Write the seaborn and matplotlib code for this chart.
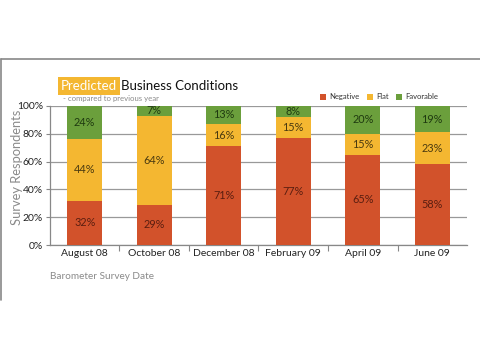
import matplotlib
matplotlib.use("Agg")
import matplotlib.pyplot as plt
import seaborn as sns
import pandas as pd
import numpy as np
from matplotlib.patches import Patch
from matplotlib.lines import Line2D

dates = ["August 08", "October 08", "December 08", "February 09", "April 09", "June 09"]
negative = [32, 29, 71, 77, 65, 58]
flat = [44, 64, 16, 15, 15, 23]
favorable = [24, 7, 13, 8, 20, 19]
yticks = [0, 20, 40, 60, 80, 100]

c_neg = "#d2522b"
c_flat = "#f4b731"
c_fav = "#6b9f3c"

sns.set_theme(style="white")
plt.rcParams["font.family"] = ["Lato", "DejaVu Sans"]

neg = np.array(negative)
fl = np.array(flat)
fav = np.array(favorable)
df = pd.DataFrame({
    "date": dates,
    "neg_top": neg,
    "flat_top": neg + fl,
    "fav_top": neg + fl + fav,
})

fig = plt.figure(figsize=(4.8, 3.6), dpi=100)
fig.patch.set_facecolor("white")
ax = fig.add_axes([0.104, 0.319, 0.869, 0.387])

for col, color in [("fav_top", c_fav), ("flat_top", c_flat), ("neg_top", c_neg)]:
    sns.barplot(data=df, x="date", y=col, color=color, width=0.5,
                saturation=1, ax=ax, zorder=3, linewidth=0)

for i in range(len(dates)):
    ax.text(i, neg[i] / 2, f"{neg[i]}%", ha="center", va="center",
            fontsize=7.8, color="#5a1e10", zorder=5)
    ax.text(i, neg[i] + fl[i] / 2, f"{fl[i]}%", ha="center", va="center",
            fontsize=7.8, color="#4a3a10", zorder=5)
    ax.text(i, neg[i] + fl[i] + fav[i] / 2, f"{fav[i]}%", ha="center", va="center",
            fontsize=7.8, color="#1f3a10", zorder=5)

ax.set_xlim(-0.5, len(dates) - 0.5)
ax.set_ylim(0, 100)
ax.set_yticks(yticks)
ax.set_yticklabels([f"{v}%" for v in yticks], fontsize=7.5, color="#222222")
ax.yaxis.grid(True, color="#999999", linewidth=0.9, zorder=0)
ax.set_axisbelow(True)
ax.tick_params(axis="y", which="major", length=3, width=0.8, color="#888888",
               direction="out", left=True, pad=2)
ax.tick_params(axis="x", which="major", length=0, labelsize=7.5, labelcolor="#222222", pad=3)
ax.set_xticks(np.arange(0.5, len(dates) - 0.5, 1.0), minor=True)
ax.tick_params(axis="x", which="minor", length=4, width=0.8, color="#888888",
               direction="out", bottom=True)
for s in ["top", "right"]:
    ax.spines[s].set_visible(False)
for s in ["left", "bottom"]:
    ax.spines[s].set_color("#888888")
    ax.spines[s].set_linewidth(0.9)

ax.set_xlabel("")
ax.set_ylabel("")
fig.text(0.036, 0.535, "Survey Respondents", fontsize=9.3, color="#8a8a8a",
         rotation=90, ha="center", va="center")
fig.text(0.104, 0.233, "Barometer Survey Date", fontsize=7.2, color="#8a8a8a",
         ha="left", va="center")

# title
t1 = fig.text(0.126, 0.761, "Predicted", fontsize=9.5, color="white", ha="left", va="center",
              bbox=dict(boxstyle="square,pad=0.22", facecolor=c_flat, edgecolor="none"))
fig.canvas.draw()
bb = t1.get_window_extent()
x_next = (bb.x1 + 4) / fig.bbox.width
fig.text(x_next, 0.761, "Business Conditions", fontsize=9.5, color="#111111",
         ha="left", va="center")
fig.text(0.132, 0.727, "- compared to previous year", fontsize=5.6, color="#8a8a8a",
         ha="left", va="center")

# legend
handles = [Patch(facecolor=c, edgecolor="none") for c in (c_neg, c_flat, c_fav)]
fig.legend(handles, ["Negative", "Flat", "Favorable"], loc="center",
           bbox_to_anchor=(0.79, 0.731), ncol=3, frameon=False, fontsize=5.5,
           handlelength=0.8, handleheight=0.8, handletextpad=0.4,
           columnspacing=1.0, labelcolor="#333333")

# frame (top and left edges)
fig.add_artist(Line2D([0.003, 1.0], [0.836, 0.836], transform=fig.transFigure,
                      color="#888888", linewidth=1.2))
fig.add_artist(Line2D([0.003, 0.003], [0.836, 0.167], transform=fig.transFigure,
                      color="#888888", linewidth=1.2))

fig.savefig("out.png", dpi=100, facecolor="white")
